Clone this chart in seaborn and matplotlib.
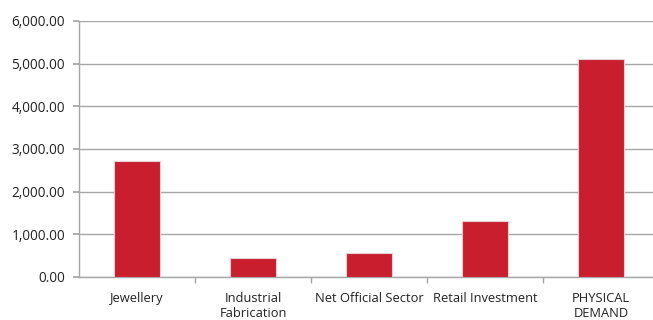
import matplotlib
matplotlib.use("Agg")
import matplotlib.pyplot as plt
import seaborn as sns
import pandas as pd
from matplotlib.ticker import FuncFormatter, MultipleLocator

categories = ["Jewellery", "Industrial\nFabrication", "Net Official Sector", "Retail Investment", "PHYSICAL\nDEMAND"]
values = [2720, 450, 560, 1310, 5110]

df = pd.DataFrame({"cat": categories, "val": values})

sns.set_theme(style="white")
plt.rcParams['font.family'] = ['Open Sans', 'DejaVu Sans']

fig = plt.figure(figsize=(6.53, 3.2), dpi=100)
ax = fig.add_axes([79/653, 1-277/320, 580/653, (277-21)/320])

sns.barplot(data=df, x="cat", y="val", color="#C81E2D", width=0.4, ax=ax, saturation=1,
            edgecolor="#E8D0D2", linewidth=0.8, zorder=3)

ax.set_ylim(0, 6000)
ax.set_xlim(-0.5, 4.5)
ax.yaxis.set_major_locator(MultipleLocator(1000))
ax.yaxis.set_major_formatter(FuncFormatter(lambda v, p: f"{v:,.2f}"))
ax.grid(axis="y", color="#A6A6A6", linewidth=1.0, zorder=0)
ax.set_axisbelow(True)
for s in ["top", "right"]:
    ax.spines[s].set_visible(False)
ax.spines["left"].set_color("#A6A6A6")
ax.spines["bottom"].set_color("#A6A6A6")
ax.spines["left"].set_linewidth(1.0)
ax.spines["bottom"].set_linewidth(1.0)
ax.set_xlabel("")
ax.set_ylabel("")
ax.tick_params(axis="y", length=4, color="#A6A6A6", labelsize=9.8, labelcolor="#222222", pad=6, left=True)
ax.tick_params(axis="x", length=0, labelsize=9.3, labelcolor="#222222", pad=11)
ax.set_xticks(range(len(categories)))
ax.set_xticklabels(categories, linespacing=1.2, va="top")
# minor ticks between categories
ax.set_xticks([0.5, 1.5, 2.5, 3.5], minor=True)
ax.tick_params(axis="x", which="minor", length=4, color="#A6A6A6", bottom=True)

fig.savefig("out.png", dpi=100)
